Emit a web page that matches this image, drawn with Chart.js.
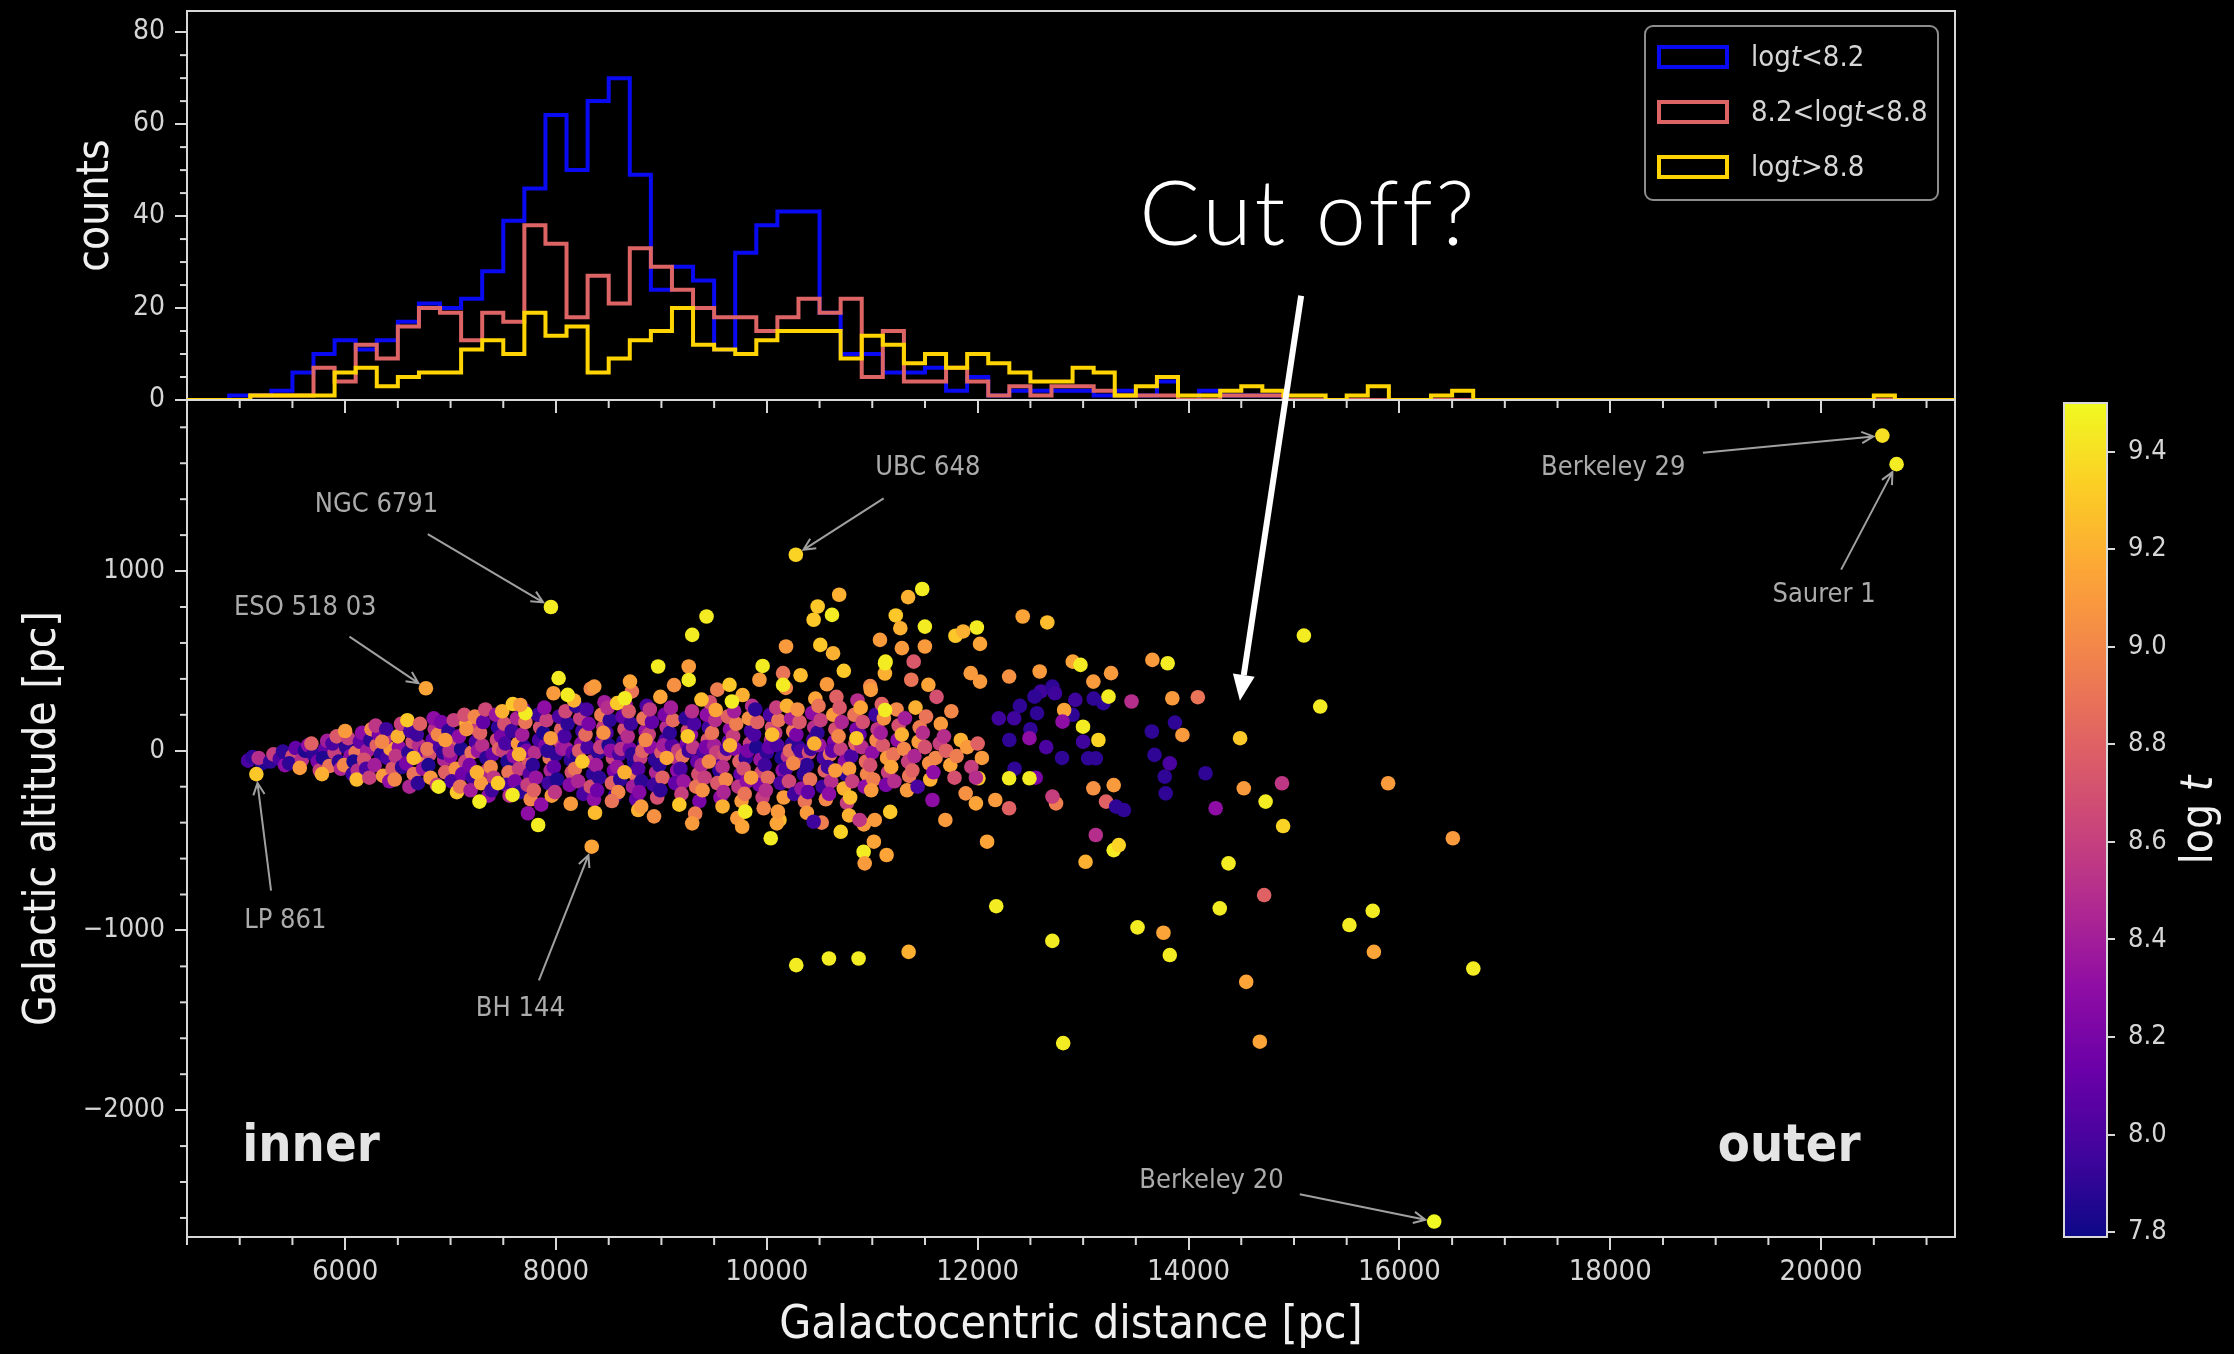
<!DOCTYPE html>
<html>
<head>
<meta charset="utf-8">
<script src="https://cdn.jsdelivr.net/npm/chart.js@4.4.1/dist/chart.umd.min.js"></script>
<style>
  html, body { margin: 0; padding: 0; background: #000; }
  #wrap { position: relative; width: 2234px; height: 1354px; background: #000; overflow: hidden; }
  canvas { position: absolute; left: 0; top: 0; }
</style>
</head>
<body>
<div id="wrap">
  <canvas id="hist" width="2234" height="420"></canvas>
  <canvas id="cbar" width="2234" height="1354"></canvas>
  <canvas id="scatter" width="2234" height="1354"></canvas>
</div>
<script>
// ---- axes
const xMin = 4500, xMax = 21270;
const altMin = -2706, altMax = 1952;
const countMax = 84.6;
const ageMin = 7.79, ageMax = 9.5;
const distTicks = [6000, 8000, 10000, 12000, 14000, 16000, 18000, 20000];
const altTicks = [-2000, -1000, 0, 1000];
const countTicks = [0, 20, 40, 60, 80];
const ageTicks = [7.8, 8.0, 8.2, 8.4, 8.6, 8.8, 9.0, 9.2, 9.4];

// ---- histogram, 200 pc bins starting at 4500 pc
const binStart = 4500;
const binWidth = 200;
const youngCounts = [
  0,0,1,1,2,6,10,13,11,13,
  17,21,20,22,28,39,46,62,50,65,
  70,49,24,29,26,11,32,38,41,41,
  19,10,10,6,6,7,2,5,1,2,
  2,2,2,1,2,1,4,0,2,1,
  1,1,0,0,0,0,0,0,0,0,
  0,0,0,0,0,0,0,0,0,0,
  0,0,0,0,0,0,0,0,0,0,
  0,0,0,0];
const midCounts = [
  0,0,0,1,1,1,7,4,12,9,
  16,20,19,13,19,17,38,34,18,27,
  21,33,29,24,20,18,18,15,18,22,
  19,22,5,15,4,4,7,4,1,3,
  1,3,3,2,1,1,1,0,0,1,
  1,1,0,0,0,0,0,0,0,0,
  0,0,0,0,0,0,0,0,0,0,
  0,0,0,0,0,0,0,0,0,0,
  0,0,0,0];
const oldCounts = [
  0,0,0,1,1,1,1,6,7,3,
  5,6,6,11,13,10,19,14,16,6,
  9,13,15,20,12,11,10,13,15,15,
  15,9,14,12,8,10,7,10,8,6,
  4,4,7,6,1,3,5,1,1,2,
  3,2,1,1,0,1,3,0,0,1,
  2,0,0,0,0,0,0,0,0,0,
  0,0,0,0,0,0,0,0,0,0,
  1,0,0,0];
const histLabels = ['log|t|<8.2', '8.2<log|t|<8.8', 'log|t|>8.8'];

// ---- clusters: [distance pc, altitude pc, log t]
const discClusters = [
  [5080,-55,8.0],[5120,-35,7.9],[5210,-70,7.85],[5180,-40,8.5],[5290,-60,7.9],[5320,-20,8.6],
  [5380,-45,8.0],[5430,-80,8.3],[5410,-5,7.9],[5500,-30,8.7],[5470,-70,7.9],[5530,15,8.1],
  [5590,-50,8.5],[5620,0,7.85],[5570,-95,9.1],[5650,30,8.3],
  [5700,-20,7.9],[5740,-60,8.2],[5680,40,8.8],[5760,-110,8.6],
  [5810,10,8.1],[5790,-40,7.85],[5850,-85,8.9],[5830,55,8.4],[5780,-130,9.2],
  [5900,-10,8.6],[5940,-60,7.9],[5880,40,8.0],[5960,-100,8.45],[5920,80,8.75],
  [6010,20,7.9],[6050,-30,8.3],[5990,-80,9.0],[6030,70,8.6],[6070,-130,7.95],[6000,110,9.1],
  [6100,-10,8.9],[6140,50,8.1],[6080,-60,7.85],[6120,-110,8.5],[6160,100,8.3],[6110,-160,9.25],
  [6210,0,8.4],[6180,-50,8.7],[6240,60,7.9],[6200,-100,8.0],[6250,120,9.0],[6230,-150,8.6],
  [6300,30,8.8],[6340,-20,7.9],[6280,-80,8.4],[6320,90,8.2],[6360,-140,9.1],[6290,140,8.55],
  [6400,-40,8.0],[6430,10,9.1],[6380,70,8.5],[6450,-100,8.75],[6420,-170,8.3],[6390,120,7.95],
  [6510,20,8.3],[6480,-30,8.55],[6540,-90,7.9],[6500,80,9.2],[6530,150,8.6],[6470,-160,9.0],
  [6600,-10,7.9],[6640,50,8.7],[6580,-70,8.2],[6620,110,8.0],[6650,-130,8.9],[6590,170,9.3],[6610,-200,8.45],
  [6700,30,8.5],[6730,-40,9.0],[6680,90,7.95],[6740,-100,8.35],[6710,150,8.8],[6690,-180,7.9],[6760,0,8.15],
  [6800,-20,8.7],[6830,60,8.1],[6790,-80,7.85],[6850,120,8.5],[6810,-150,9.1],[6840,180,8.3],[6780,10,8.9],
  [6900,20,8.0],[6940,-50,8.45],[6880,90,9.0],[6950,-120,8.8],[6910,160,8.2],[6870,-190,8.6],[6930,-10,7.9],
  [7000,-30,8.3],[7040,40,8.75],[6980,110,7.9],[7050,-100,9.05],[7010,-170,8.0],[7030,170,8.6],[6990,0,8.5],[7060,-230,9.3],
  [7100,10,7.85],[7140,-60,8.6],[7080,80,8.3],[7150,150,9.2],[7110,-130,8.15],[7130,200,8.7],[7090,-200,8.9],
  [7200,-10,8.9],[7240,50,8.0],[7180,-80,8.2],[7250,120,8.6],[7210,-150,7.95],[7230,190,9.0],[7190,-220,8.4],[7260,0,8.35],
  [7300,30,8.5],[7340,-40,7.9],[7280,100,8.8],[7350,-110,8.45],[7310,160,8.1],[7290,-180,9.1],[7330,230,8.65],[7360,-250,8.3],
  [7400,-20,8.1],[7440,60,8.65],[7380,-90,9.0],[7450,130,7.9],[7410,-150,8.55],[7430,200,8.35],[7390,-220,7.95],[7460,10,8.8],
  [7500,0,8.6],[7540,-60,7.85],[7480,80,8.2],[7550,-120,8.9],[7510,150,8.7],[7530,-190,8.0],[7490,220,9.2],[7560,-250,8.5],[7520,40,8.0],
  [7600,-30,8.3],[7640,40,9.1],[7580,110,7.95],[7650,-100,8.6],[7610,-170,8.2],[7630,180,8.45],[7590,260,9.3],[7660,-230,7.9],
  [7700,20,7.9],[7740,-50,8.75],[7680,90,8.4],[7750,-130,8.05],[7710,160,8.9],[7730,-190,8.6],[7690,230,8.1],[7760,-270,9.0],[7720,0,8.2],
  [7800,-10,8.5],[7840,60,8.0],[7780,-80,7.9],[7850,130,8.7],[7810,-150,8.35],[7830,200,7.95],[7790,-220,8.8],[7860,-300,8.3],
  [7900,30,8.2],[7940,-40,8.9],[7880,100,7.85],[7950,-110,8.45],[7910,170,8.6],[7930,-180,7.95],[7890,240,8.3],[7960,-250,9.1],[7920,0,7.9],
  [8000,-20,7.9],[8040,50,8.6],[7980,-90,8.1],[8050,120,8.8],[8010,-160,7.85],[8030,190,8.0],[7990,-230,8.55],[8060,10,8.35],
  [8100,10,8.4],[8140,-50,7.9],[8080,80,8.0],[8150,-120,8.7],[8110,150,7.9],[8130,-190,8.25],[8090,220,8.65],[8160,-10,8.1],
  [8200,-30,7.85],[8240,40,8.3],[8180,-100,8.9],[8250,110,7.95],[8210,-170,8.45],[8230,180,8.6],[8190,250,7.9],[8260,-240,8.0],[8220,0,8.75],
  [8300,20,8.0],[8340,-60,8.55],[8280,90,8.85],[8350,-130,7.9],[8310,150,8.2],[8330,-200,8.7],[8290,230,8.0],[8360,-270,8.3],
  [8400,-10,7.9],[8440,60,8.15],[8380,-80,8.4],[8450,130,8.6],[8410,-150,7.9],[8430,200,8.95],[8390,-220,8.15],[8460,270,8.4],[8420,20,8.6],
  [8500,30,7.85],[8540,-40,8.65],[8480,100,8.0],[8550,-110,8.2],[8510,170,7.9],[8530,-180,8.8],[8490,240,8.5],[8560,-250,7.95],[8520,0,8.3],
  [8600,-20,8.0],[8640,50,7.9],[8580,-90,8.35],[8650,120,8.7],[8610,-160,7.9],[8630,190,8.1],[8590,-230,9.0],[8660,260,8.3],[8620,10,8.5],
  [8700,10,8.2],[8740,-60,7.85],[8680,80,8.5],[8750,-130,8.9],[8710,150,7.95],[8730,-200,8.4],[8690,220,8.75],[8760,-270,8.1],[8720,-20,7.9],
  [8800,-40,8.6],[8840,40,7.9],[8780,-100,8.05],[8850,110,8.35],[8810,-170,7.9],[8830,180,8.9],[8790,-230,8.25],[8860,250,8.0],[8820,0,8.8],
  [8900,20,8.3],[8940,-50,7.9],[8880,90,8.6],[8950,-120,8.45],[8910,160,8.1],[8930,-190,7.95],[8890,230,8.55],[8960,-260,8.7],
  [9000,-10,8.75],[9040,60,8.0],[8980,-80,7.9],[9050,130,8.5],[9010,-150,8.8],[9030,200,8.2],[8990,-220,7.9],[9020,30,8.4],
  [9100,30,8.05],[9140,-40,8.5],[9080,100,7.9],[9150,-110,8.3],[9110,170,8.85],[9130,-180,8.1],[9090,240,8.4],[9160,0,8.6],
  [9200,-30,8.9],[9240,40,8.2],[9180,-100,8.0],[9250,110,8.65],[9210,-170,8.35],[9230,180,7.9],[9190,-240,8.6],[9260,0,7.95],
  [9300,20,8.55],[9340,-60,8.1],[9280,90,8.3],[9350,-130,8.7],[9310,150,8.0],[9330,-200,8.9],[9290,220,8.5],[9360,-280,8.2],
  [9400,-10,8.0],[9440,60,8.75],[9380,-80,8.45],[9450,130,7.95],[9410,-150,8.6],[9430,200,8.3],[9390,-220,9.05],[9460,270,8.7],[9420,20,8.2],
  [9500,30,8.4],[9540,-40,8.0],[9480,100,8.9],[9550,-110,7.9],[9510,170,8.5],[9530,-180,8.75],[9560,-260,8.3],[9520,-10,8.6],
  [9600,-20,8.7],[9640,50,8.1],[9580,-90,8.5],[9650,120,8.3],[9610,-160,9.0],[9630,190,8.8],[9590,-230,8.45],[9620,10,8.0],
  [9700,10,8.25],[9740,-60,8.8],[9680,80,8.6],[9750,-130,8.1],[9710,150,8.95],[9730,-200,8.55],[9690,220,8.4],[9760,-280,9.1],
  [9800,-40,7.9],[9840,40,8.6],[9780,-100,8.7],[9850,110,8.0],[9810,-170,8.3],[9830,180,9.05],[9790,-240,8.9],[9860,250,8.5],[9820,0,8.2],
  [9900,20,7.85],[9940,-50,8.35],[9880,90,8.0],[9950,-120,8.65],[9910,160,8.8],[9930,-190,8.2],[9890,230,7.9],[9960,-260,8.6],
  [10000,-10,7.9],[10040,60,8.45],[9980,-80,7.95],[10050,130,8.7],[10010,-150,8.85],[10030,200,8.0],[9990,-220,8.5],[10020,20,8.1],
  [10100,30,8.0],[10140,-40,7.85],[10080,100,8.55],[10150,-110,8.3],[10110,170,8.9],[10130,-180,8.0],[10090,240,8.6],[10160,-260,9.1],
  [10200,-30,8.5],[10240,40,7.9],[10180,-100,8.0],[10250,110,8.95],[10210,-170,8.65],[10230,180,8.4],[10190,250,9.2],[10260,-240,7.95],[10220,0,8.85],
  [10300,20,7.9],[10340,-60,8.6],[10280,90,8.2],[10350,-130,7.9],[10310,160,8.75],[10330,-210,8.35],[10290,230,9.05],[10360,-280,8.9],[10320,0,8.0],
  [10400,-10,8.7],[10440,60,8.0],[10380,-80,7.9],[10450,130,8.5],[10410,-160,8.9],[10430,210,8.3],[10390,-230,8.1],[10460,290,9.15],[10420,10,7.95],
  [10500,30,8.35],[10540,-40,8.0],[10480,100,7.9],[10550,-110,8.8],[10510,170,8.6],[10530,-200,7.95],[10490,250,8.9],[10560,-270,9.0],
  [10600,-20,8.9],[10640,50,8.2],[10580,-90,7.95],[10650,120,8.7],[10610,-170,8.5],[10630,200,9.1],[10590,-240,8.3],[10660,300,8.8],[10620,0,8.1],
  [10700,10,8.6],[10740,-60,8.3],[10680,80,9.0],[10750,-130,7.9],[10710,160,8.45],[10730,-210,9.2],[10690,240,8.75],[10760,-290,8.6],
  [10800,-30,8.0],[10840,40,8.8],[10780,-100,9.1],[10850,120,8.2],[10810,-170,8.6],[10830,200,8.9],[10790,-260,9.25],[10860,280,8.5],
  [10900,20,8.5],[10940,-60,8.85],[10880,90,8.1],[10950,-130,9.0],[10910,160,8.7],[10930,-200,8.3],[10890,240,9.15],
  [11000,-10,8.3],[11040,60,9.0],[10980,-80,8.7],[11050,120,8.55],[11010,-160,8.95],[11030,200,7.95],[10990,-220,9.1],
  [11100,30,8.75],[11140,-40,9.1],[11080,100,8.4],[11150,-120,8.6],[11110,180,9.05],[11130,-190,8.2],[11090,260,8.8],
  [11200,-20,8.9],[11240,60,8.3],[11180,-90,9.15],[11250,140,8.7],[11210,-170,8.5],[11230,230,9.0],
  [11300,10,9.0],[11340,-60,8.6],[11280,90,9.2],[11350,-140,8.9],[11310,180,8.4],[11330,-220,9.1],
  [11400,-30,8.45],[11440,50,9.1],[11380,-110,8.8],[11450,130,8.95],[11410,240,9.2],[11430,-200,8.0],
  [11500,20,8.7],[11540,-70,9.05],[11480,100,8.5],[11550,-160,9.2],[11510,190,8.9],
  [11600,-40,9.0],[11640,40,8.6],[11580,-120,8.3],[11650,150,9.1],[11610,300,8.7],
  [11700,0,8.8],[11740,-80,9.15],[11680,80,8.5],[11750,220,9.0],
  [11800,-30,8.95],[11840,60,9.2],[11780,-150,8.7],
  [11900,20,9.1],[11940,-90,8.6],[12000,40,8.8],[12040,-40,9.1],
  [12400,250,7.9],[12600,330,7.95],[12500,120,7.9],[12900,200,7.9],[13000,50,7.95],[12800,-40,7.9],
  [12650,20,8.0],[12300,60,7.9],[12200,180,7.95],[13100,290,7.9],[12350,-100,7.9],[12550,-150,8.2],
  // band edges, mostly older
  [8170,280,9.2],[8330,345,9.0],[8580,265,9.3],[8720,330,8.9],[8990,300,9.15],[9120,365,9.05],
  [9380,285,9.25],[9530,340,8.95],[9770,310,9.2],[9930,395,9.1],[10180,350,9.0],[10320,420,9.25],
  [10570,370,9.1],[10730,445,9.3],[10980,360,9.0],[11120,430,9.2],[11370,395,8.9],
  [8140,-295,9.1],[8370,-345,9.25],[8530,-280,8.9],[8780,-330,9.2],[8930,-365,9.05],[9170,-300,9.3],
  [9320,-350,8.95],[9580,-310,9.2],[9720,-375,9.1],[9970,-320,9.0],[10120,-385,9.25],[10380,-345,9.1],
  [10520,-400,8.95],[10780,-360,9.2],[10920,-410,9.1],[11170,-340,9.3],
  [7650,-20,9.2],[7950,70,9.1],[8250,-60,9.3],[8450,100,9.05],[8650,-120,9.2],[8850,60,9.0],
  [9050,-40,9.15],[9250,80,9.3],[9450,-60,9.0],[9650,30,9.2],[9850,-150,9.1],[10050,90,9.25],
  [10250,-70,9.0],[10450,40,9.2],[10650,-110,9.1],[10850,70,9.3],[7250,-120,9.2],[6950,60,9.1],
  [6650,-40,9.25],[6350,50,9.0],[7450,-180,9.3],[7150,120,9.05]
];

const haloClusters = [
  [10686,868,9.2],[10482,803,9.3],[10618,756,9.45],[10444,729,9.3],[11340,855,9.2],[11474,900,9.45],
  [9428,747,9.45],[11223,753,9.3],[11499,691,9.45],[10182,580,9.1],[10507,589,9.3],[10628,543,9.2],
  [9960,472,9.45],[12427,747,9.15],[12660,714,9.25],[11992,686,9.45],[11789,640,9.3],[11862,664,9.2],
  [12022,595,9.15],[11499,580,9.1],[11281,571,9.1],[11073,617,9.1],[11126,496,9.45],[11393,496,8.75],
  [13657,506,9.1],[13802,487,9.45],[12902,496,9.15],[12975,478,9.45],[13265,432,9.1],[13097,385,9.1],
  [12588,441,9.1],[12298,413,9.05],[11934,432,9.1],[12022,385,9.1],[15094,641,9.45],[15249,246,9.45],
  [13846,292,9.1],[14088,298,8.9],[13459,274,8.5],[14489,70,9.3],[13942,88,9.1],[13652,107,7.9],
  [13871,157,7.9],[13677,-23,7.9],[13822,-70,8.0],[13774,-144,7.9],[14161,-125,7.9],[13783,-237,7.9],
  [14524,-209,9.1],[14886,-181,8.55],[14731,-283,9.45],[15893,-181,9.1],[14257,-320,8.3],[14897,-419,9.35],
  [13120,-42,7.9],[13145,60,9.35],[12999,134,9.45],[13290,-191,9.1],[13097,-209,9.05],[13217,-283,8.8],
  [13387,-330,7.9],[12743,-293,8.95],[12709,-255,8.6],[13120,-469,8.5],[13290,-553,9.45],[13338,-525,9.35],
  [13023,-618,9.2],[14379,-627,9.45],[16507,-487,9.1],[14717,-803,8.8],[14296,-877,9.45],[15526,-970,9.45],
  [15747,-891,9.45],[15758,-1119,9.15],[16701,-1212,9.45],[14547,-1286,9.15],[13822,-1137,9.45],[13762,-1013,9.15],
  [13516,-983,9.45],[12708,-1058,9.45],[12176,-865,9.45],[11345,-1119,9.2],[10870,-1156,9.45],[10589,-1156,9.45],
  [10279,-1193,9.45],[12089,-506,9.15],[10918,-562,9.45],[11015,-506,9.15],[11136,-580,9.15],[10928,-627,9.1],
  [10701,-451,9.35],[10037,-487,9.45],[9795,-339,9.45],[10095,-404,9.15],
  [12007,-153,9.3],[12167,-274,9.1],[12298,-153,9.45],[12491,-153,9.45],[11983,-293,9.15],[11886,-237,9.05],
  [12298,-320,8.8],[11693,-385,9.1],[11571,-274,8.3],[11983,-150,8.5],[12491,70,8.3],[12346,181,7.95],
  [12563,209,7.9],[12709,357,7.9],[12733,320,7.95],[12539,301,7.9],[12926,283,7.95],[13192,265,7.9],
  [13241,301,9.45],[12820,227,9.15],[12805,162,8.3],[13048,-42,7.9],[13313,-311,7.9],
  [12811,-1627,9.45],[14676,-1619,9.15],
  [9292,645,9.45],[8969,469,9.45],[9259,469,9.1],[9259,394,9.45],[9646,367,9.3],[9669,274,9.45],
  [9515,227,9.15],[8702,385,9.15],[8654,292,9.45],[8363,357,9.1],[8025,404,9.45],[8111,311,9.45],
  [7976,320,9.1],[7710,209,9.45],[7662,255,9.1],[10154,432,8.9],[10154,367,9.45],[10986,339,9.1],
  [11121,487,9.45],[11121,227,9.45],[11266,682,9.2],[11532,367,9.15],
  [7831,-413,9.45],[7734,-348,8.3],[7274,-283,9.45],[7588,-246,9.45],[6887,-200,9.45],[8808,-311,9.1],
  [9292,-404,9.1],[9766,-423,9.15],[10444,-395,7.95],[10880,-385,8.55],[11024,-385,9.1],[10105,-339,9.1]
];

// named clusters, with where their label and arrow tail sit (data units)
const noteNames = ['NGC 6791', 'ESO 518 03', 'UBC 648', 'Berkeley 29', 'Saurer 1', 'LP 861', 'BH 144', 'Berkeley 20'];
const namedClusters = [[7952,800,9.45],[6766,348,9.15],[10275,1091,9.35],[20581,1754,9.4],[20716,1595,9.45],[5158,-130,9.3],[8339,-534,9.15],[16330,-2620,9.5]];
const noteTextAt = [[6297,1365],[5622,794],[11527,1572],[18028,1572],[20028,865],[5432,-945],[7662,-1437],[14217,-2397]];
const noteTailAt = [[6784,1206],[6041,635],[11108,1405],[18879,1659],[20190,1008],[5297,-778],[7838,-1278],[15055,-2468]];
const regionNames = ['inner', 'outer'];
const regionAt = [[5676,-2206],[19697,-2206]];

// ---- look
const COND = "'DejaVu Sans Condensed', 'DejaVu Sans', sans-serif";
const frameColor = '#d8d8d8';
const labelColor = '#d6d6d6';
const noteColor = '#ababab';
const histColors = ['#0a0af2', '#dc6464', '#ffd400'];
const plasmaStops = ['#0d0887','#41049d','#6a00a8','#8f0da4','#b12a90','#cc4778','#e16462','#f2844b','#fca636','#fcce25','#f0f921'];

function hexRgb(h) {
  return [parseInt(h.slice(1, 3), 16), parseInt(h.slice(3, 5), 16), parseInt(h.slice(5, 7), 16)];
}
function plasma(t) {
  let f = (t - ageMin) / (ageMax - ageMin);
  f = Math.max(0, Math.min(1, f));
  const pos = f * (plasmaStops.length - 1);
  const i = Math.min(Math.floor(pos), plasmaStops.length - 2);
  const k = pos - i;
  const a = hexRgb(plasmaStops[i]), b = hexRgb(plasmaStops[i + 1]);
  return 'rgb(' + a.map((v, j) => Math.round(v + (b[j] - v) * k)).join(',') + ')';
}

function stepData(counts) {
  const pts = counts.map((c, i) => ({ x: binStart + i * binWidth, y: c }));
  pts.push({ x: binStart + counts.length * binWidth, y: 0 });
  return pts;
}

// text with italic pieces, pieces split by '|' (odd pieces italic)
function drawMixed(ctx, text, x, y, size, align) {
  const parts = text.split('|');
  const fonts = parts.map((s, i) => (i % 2 ? 'italic ' : '') + size + 'px ' + COND);
  const widths = parts.map((s, i) => { ctx.font = fonts[i]; return ctx.measureText(s).width; });
  const total = widths.reduce((a, b) => a + b, 0);
  let cx = align === 'center' ? x - total / 2 : x;
  ctx.textAlign = 'left';
  parts.forEach((s, i) => { ctx.font = fonts[i]; ctx.fillText(s, cx, y); cx += widths[i]; });
}

// keep the plot boxes exactly where the layout padding puts them
function noPad(s) {
  s.paddingTop = 0; s.paddingBottom = 0; s.paddingLeft = 0; s.paddingRight = 0;
}

const framePlugin = {
  id: 'frame',
  beforeDatasetsDraw(chart) {
    const { ctx, chartArea: a } = chart;
    ctx.save();
    ctx.strokeStyle = frameColor;
    ctx.lineWidth = 2;
    ctx.strokeRect(a.left, a.top, a.right - a.left, a.bottom - a.top);
    ctx.restore();
  }
};

const minorTickPlugin = {
  id: 'minorTicks',
  afterDraw(chart, args, opts) {
    const { ctx, chartArea } = chart;
    ctx.save();
    ctx.strokeStyle = frameColor;
    ctx.lineWidth = 2;
    (opts.list || []).forEach(m => {
      const sc = chart.scales[m.axis];
      for (let v = Math.ceil(sc.min / m.step) * m.step; v <= sc.max; v += m.step) {
        if (m.skip.includes(v)) continue;
        const p = sc.getPixelForValue(v);
        ctx.beginPath();
        if (m.axis === 'x') { ctx.moveTo(p, chartArea.bottom); ctx.lineTo(p, chartArea.bottom + m.len); }
        else { ctx.moveTo(chartArea.left, p); ctx.lineTo(chartArea.left - m.len, p); }
        ctx.stroke();
      }
    });
    ctx.restore();
  }
};

const legendPlugin = {
  id: 'histLegend',
  afterDraw(chart) {
    const { ctx, chartArea: a } = chart;
    const left = a.right - 310, top = a.top + 15;
    ctx.save();
    ctx.beginPath();
    ctx.roundRect(left, top, 293, 174, 8);
    ctx.fillStyle = 'rgba(0,0,0,0.85)';
    ctx.fill();
    ctx.strokeStyle = '#8c8c8c';
    ctx.lineWidth = 2;
    ctx.stroke();
    histLabels.forEach((lab, i) => {
      const cy = top + 31 + i * 55;
      ctx.strokeStyle = histColors[i];
      ctx.lineWidth = 4;
      ctx.strokeRect(left + 14, cy - 10, 68, 20);
      ctx.fillStyle = labelColor;
      ctx.textBaseline = 'middle';
      drawMixed(ctx, lab, left + 106, cy + 1, 29, 'left');
    });
    ctx.restore();
  }
};

Chart.defaults.font.family = COND;
Chart.defaults.color = labelColor;

function axisGrid(len) {
  return { display: true, drawOnChartArea: false, drawTicks: true, tickLength: len, color: frameColor, lineWidth: 2 };
}

// ---- top panel: step histograms
new Chart(document.getElementById('hist'), {
  type: 'line',
  data: {
    datasets: [youngCounts, midCounts, oldCounts].map((c, i) => ({
      label: histLabels[i],
      data: stepData(c),
      stepped: 'before',
      borderColor: histColors[i],
      borderWidth: 4,
      pointRadius: 0,
      fill: false,
      order: 2 - i
    }))
  },
  options: {
    responsive: false, animation: false, devicePixelRatio: 1, events: [],
    layout: { padding: { left: 0, top: 11, right: 279, bottom: 0 } },
    plugins: { legend: { display: false }, tooltip: { enabled: false },
      minorTicks: { list: [
        { axis: 'x', step: 500, len: 8, skip: distTicks },
        { axis: 'y', step: 5, len: 7, skip: countTicks }
      ] } },
    scales: {
      x: {
        type: 'linear', min: xMin, max: xMax,
        afterBuildTicks: s => { s.ticks = distTicks.map(v => ({ value: v })); },
        afterFit: s => { s.height = 20; noPad(s); },
        ticks: { display: false },
        grid: axisGrid(13), border: { display: false }
      },
      y: {
        min: 0, max: countMax,
        afterBuildTicks: s => { s.ticks = countTicks.map(v => ({ value: v })); },
        afterFit: s => { s.width = 187; noPad(s); },
        ticks: { color: labelColor, font: { size: 28 }, padding: 10 },
        grid: axisGrid(12), border: { display: false },
        title: { display: true, text: 'counts', color: '#f0f0f0', font: { size: 44 }, padding: { top: 70, bottom: 0 } }
      }
    }
  },
  plugins: [framePlugin, minorTickPlugin, legendPlugin]
});

// ---- colour bar
new Chart(document.getElementById('cbar'), {
  type: 'scatter',
  data: { datasets: [] },
  options: {
    responsive: false, animation: false, devicePixelRatio: 1, events: [],
    layout: { padding: { left: 2064, top: 403, right: 0, bottom: 117 } },
    plugins: { legend: { display: false }, tooltip: { enabled: false } },
    scales: {
      x: { display: false, min: 0, max: 1 },
      y: {
        position: 'right', min: ageMin, max: ageMax,
        afterBuildTicks: s => { s.ticks = ageTicks.map(v => ({ value: v })); },
        afterFit: s => { s.width = 127; noPad(s); },
        ticks: { color: labelColor, font: { size: 27 }, padding: 13, callback: v => v.toFixed(1) },
        grid: axisGrid(8), border: { display: false }
      }
    }
  },
  plugins: [{
    id: 'cbarFill',
    beforeDatasetsDraw(chart) {
      const { ctx, chartArea: a, scales: { y } } = chart;
      const g = ctx.createLinearGradient(0, y.getPixelForValue(ageMin), 0, y.getPixelForValue(ageMax));
      plasmaStops.forEach((c, i) => g.addColorStop(i / (plasmaStops.length - 1), c));
      ctx.save();
      ctx.fillStyle = g;
      ctx.fillRect(a.left, a.top, a.right - a.left, a.bottom - a.top);
      ctx.strokeStyle = frameColor;
      ctx.lineWidth = 2;
      ctx.strokeRect(a.left, a.top, a.right - a.left, a.bottom - a.top);
      ctx.translate(a.right + 94, (a.top + a.bottom) / 2);
      ctx.rotate(-Math.PI / 2);
      ctx.fillStyle = '#f0f0f0';
      ctx.textBaseline = 'middle';
      drawMixed(ctx, 'log |t|', 0, 0, 44, 'center');
      ctx.restore();
    }
  }]
});

// ---- bottom panel: altitude vs distance
const toPoint = p => ({ x: p[0], y: p[1], t: p[2] });
const notePlugin = {
  id: 'notes',
  afterDraw(chart) {
    const { ctx, scales: { x, y } } = chart;
    ctx.save();
    ctx.textBaseline = 'middle';
    // named clusters
    noteNames.forEach((name, i) => {
      const tx = x.getPixelForValue(noteTextAt[i][0]), ty = y.getPixelForValue(noteTextAt[i][1]);
      ctx.fillStyle = noteColor;
      ctx.font = '27px ' + COND;
      ctx.textAlign = 'center';
      ctx.fillText(name, tx, ty);
      const sx = x.getPixelForValue(noteTailAt[i][0]), sy = y.getPixelForValue(noteTailAt[i][1]);
      const px = x.getPixelForValue(namedClusters[i][0]), py = y.getPixelForValue(namedClusters[i][1]);
      const ang = Math.atan2(py - sy, px - sx);
      const ex = px - Math.cos(ang) * 9, ey = py - Math.sin(ang) * 9;
      ctx.strokeStyle = '#a0a0a0';
      ctx.lineWidth = 2;
      ctx.beginPath();
      ctx.moveTo(sx, sy); ctx.lineTo(ex, ey);
      ctx.moveTo(ex - Math.cos(ang - 0.45) * 13, ey - Math.sin(ang - 0.45) * 13);
      ctx.lineTo(ex, ey);
      ctx.lineTo(ex - Math.cos(ang + 0.45) * 13, ey - Math.sin(ang + 0.45) * 13);
      ctx.stroke();
    });
    // inner / outer
    ctx.fillStyle = '#e4e4e4';
    ctx.font = 'bold 52px ' + COND;
    ctx.textAlign = 'center';
    regionNames.forEach((r, i) => ctx.fillText(r, x.getPixelForValue(regionAt[i][0]), y.getPixelForValue(regionAt[i][1])));
    // "Cut off?" call-out
    ctx.fillStyle = '#ffffff';
    ctx.font = '300 90px Lato, "Open Sans", sans-serif';
    ctx.letterSpacing = '3px';
    ctx.fillText('Cut off?', x.getPixelForValue(15136), y.getPixelForValue(2976));
    ctx.letterSpacing = '0px';
    const ax0 = x.getPixelForValue(15068), ay0 = y.getPixelForValue(2532);
    const ax1 = x.getPixelForValue(14487), ay1 = y.getPixelForValue(278);
    const ang = Math.atan2(ay1 - ay0, ax1 - ax0);
    const hx = ax1 - Math.cos(ang) * 26, hy = ay1 - Math.sin(ang) * 26;
    ctx.strokeStyle = '#ffffff';
    ctx.lineWidth = 6;
    ctx.beginPath(); ctx.moveTo(ax0, ay0); ctx.lineTo(hx, hy); ctx.stroke();
    ctx.beginPath();
    ctx.moveTo(ax1, ay1);
    ctx.lineTo(hx + Math.sin(ang) * 11, hy - Math.cos(ang) * 11);
    ctx.lineTo(hx - Math.sin(ang) * 11, hy + Math.cos(ang) * 11);
    ctx.closePath();
    ctx.fillStyle = '#ffffff';
    ctx.fill();
    ctx.restore();
  }
};

new Chart(document.getElementById('scatter'), {
  type: 'scatter',
  data: {
    datasets: [{
      data: discClusters.concat(haloClusters, namedClusters).map(toPoint),
      pointRadius: 7.3,
      pointBorderWidth: 0,
      pointBorderColor: 'rgba(0,0,0,0)',
      pointBackgroundColor: c => (c.raw ? plasma(c.raw.t) : '#000')
    }]
  },
  options: {
    responsive: false, animation: false, devicePixelRatio: 1, events: [],
    layout: { padding: { left: 0, top: 400, right: 279, bottom: 0 } },
    plugins: { legend: { display: false }, tooltip: { enabled: false },
      minorTicks: { list: [
        { axis: 'x', step: 500, len: 8, skip: distTicks },
        { axis: 'y', step: 200, len: 7, skip: altTicks }
      ] } },
    scales: {
      x: {
        type: 'linear', min: xMin, max: xMax,
        afterBuildTicks: s => { s.ticks = distTicks.map(v => ({ value: v })); },
        afterFit: s => { s.height = 117; noPad(s); },
        ticks: { color: labelColor, font: { size: 29 }, padding: 5, maxRotation: 0, callback: v => String(v) },
        grid: axisGrid(13), border: { display: false },
        title: { display: true, text: 'Galactocentric distance [pc]', color: '#f0f0f0', font: { size: 46 }, padding: { top: 0, bottom: 0 } }
      },
      y: {
        min: altMin, max: altMax,
        afterBuildTicks: s => { s.ticks = altTicks.map(v => ({ value: v })); },
        afterFit: s => { s.width = 187; noPad(s); },
        ticks: { color: labelColor, font: { size: 27 }, padding: 10, callback: v => (v < 0 ? '\u2212' + Math.abs(v) : String(v)) },
        grid: axisGrid(12), border: { display: false },
        title: { display: true, text: 'Galactic altitude [pc]', color: '#f0f0f0', font: { size: 44 }, padding: { top: 17, bottom: 0 } }
      }
    }
  },
  plugins: [framePlugin, minorTickPlugin, notePlugin]
});
</script>
</body>
</html>
